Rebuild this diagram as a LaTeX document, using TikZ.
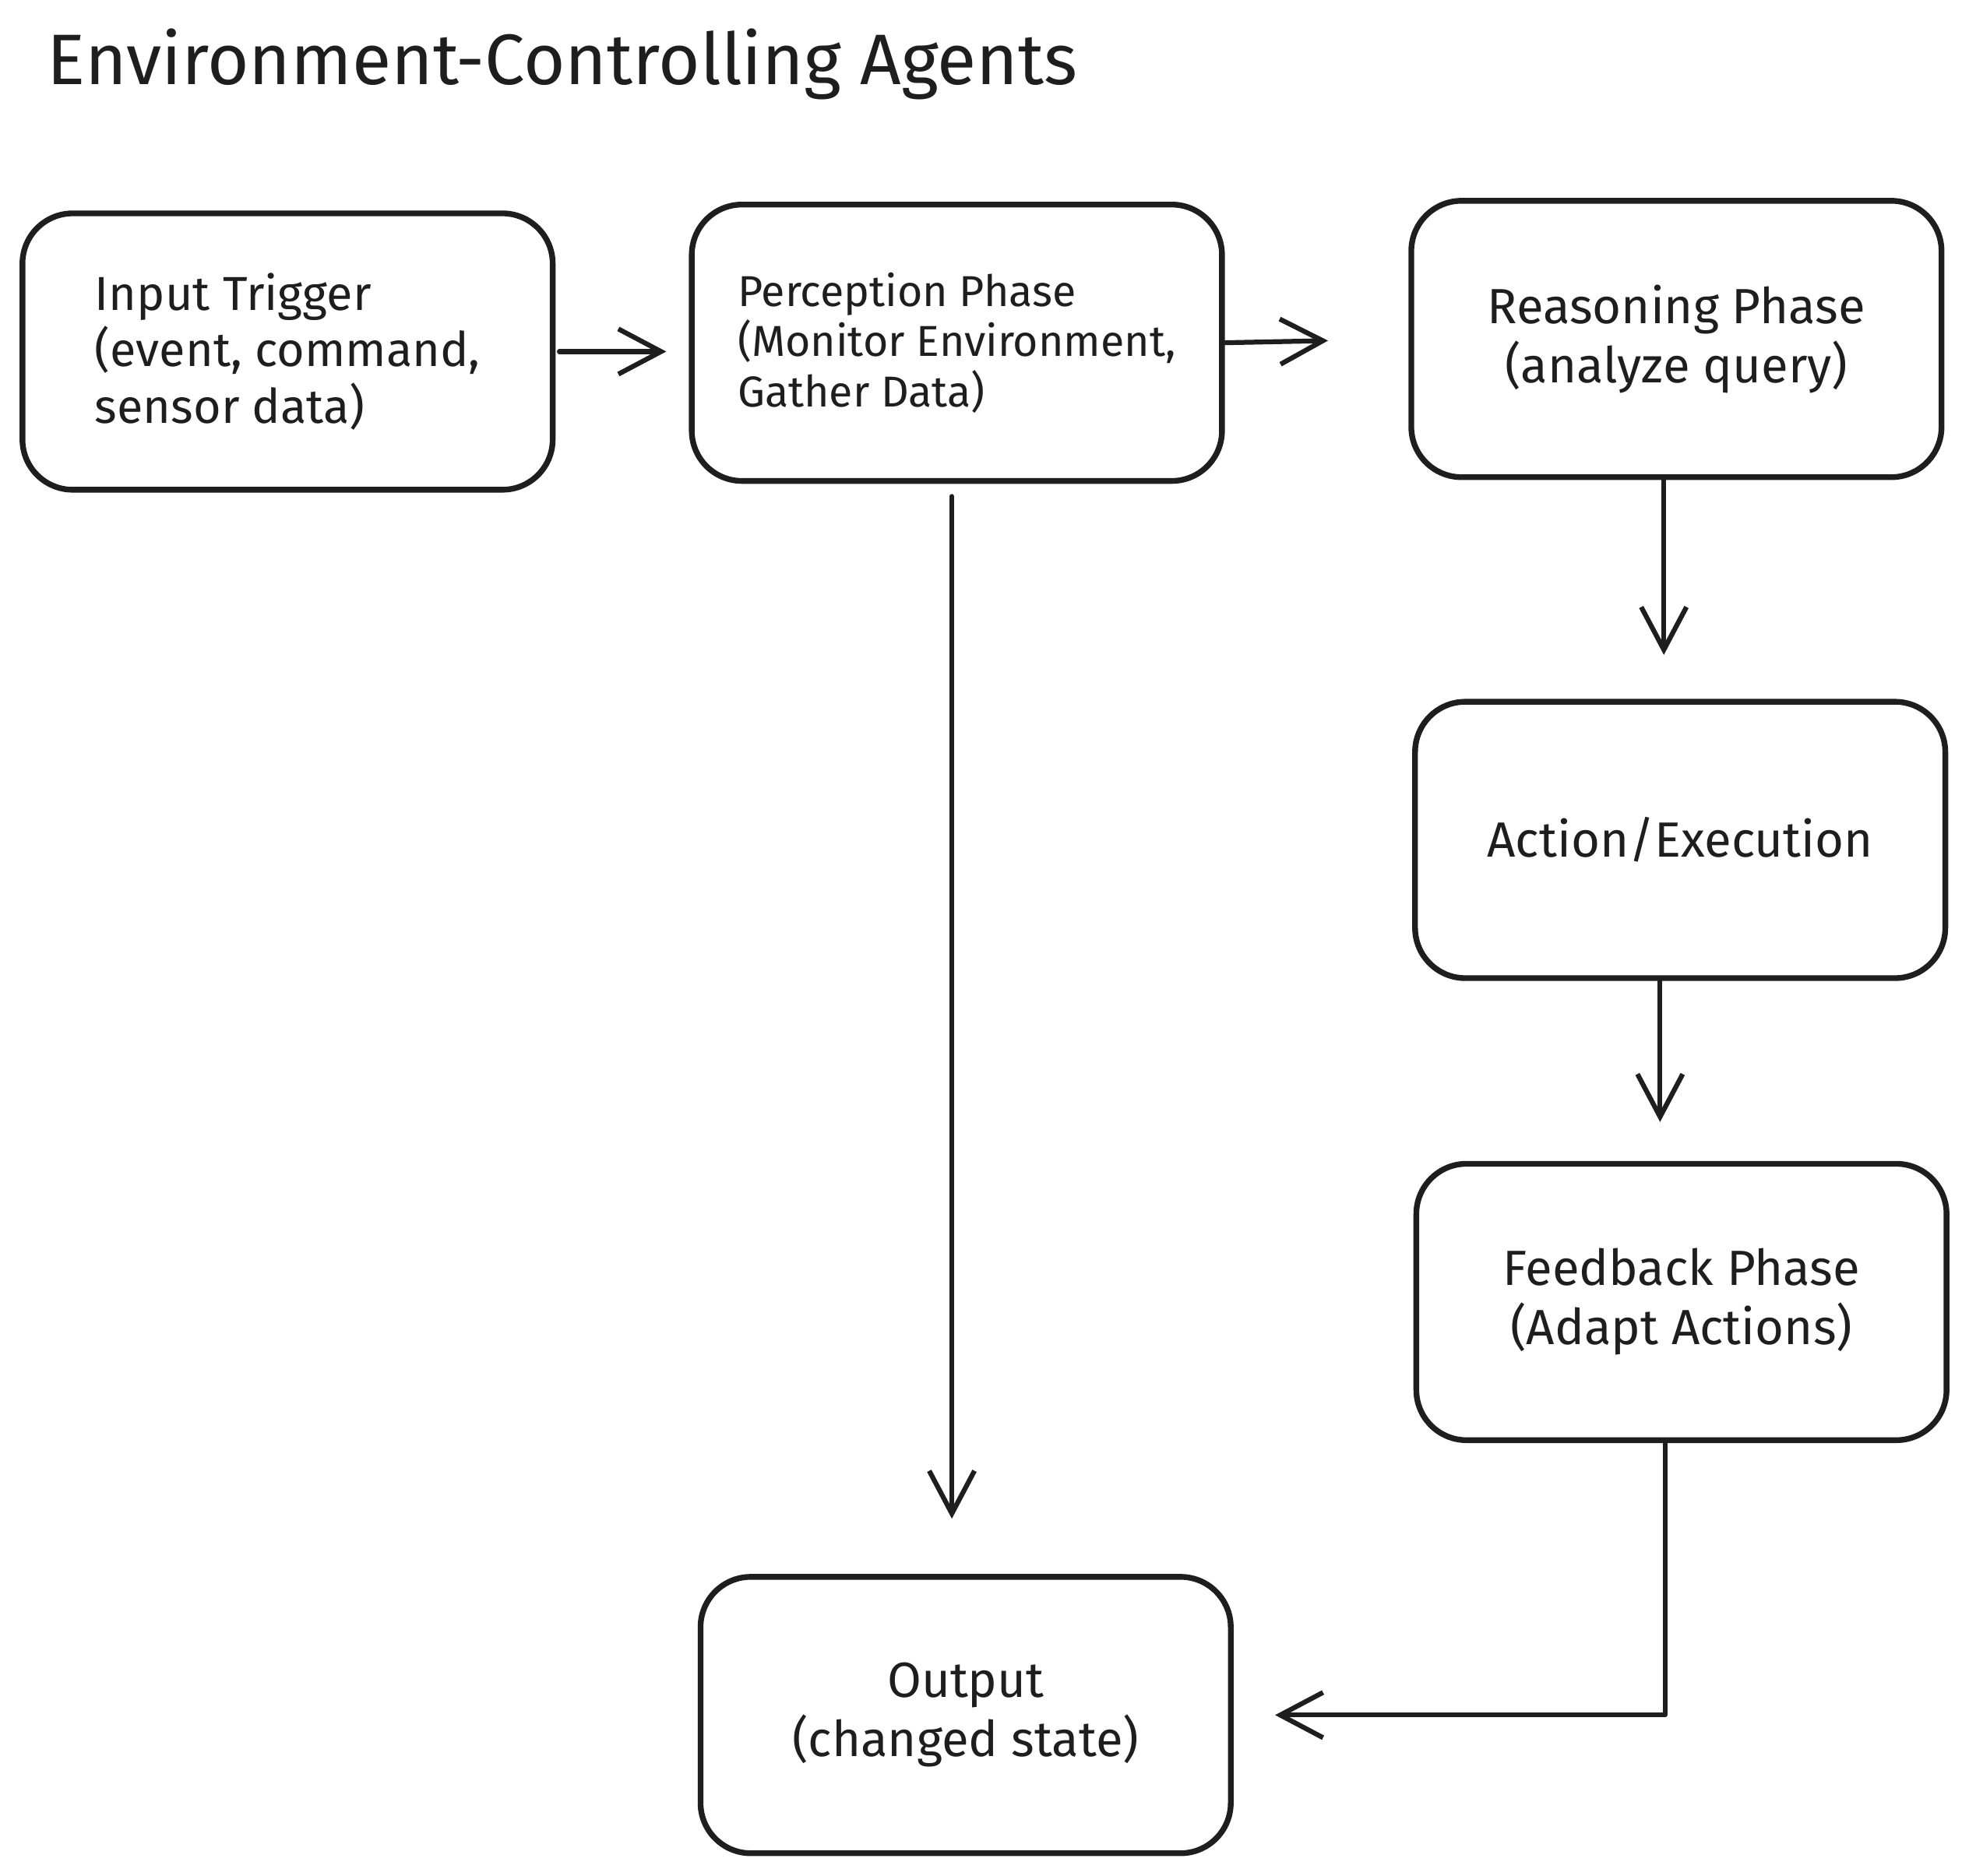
\documentclass[tikz,border=0pt]{standalone}
\usepackage{fontspec}
\setmainfont{Fira Sans}
\usetikzlibrary{arrows.meta, positioning}
\definecolor{ink}{HTML}{1E1E1E}

\begin{document}
\begin{tikzpicture}[x=0.01cm, y=-0.01cm,
    phase/.style={draw=ink, line width=1.3pt, rounded corners=0.4cm, minimum width=4.22cm, minimum height=2.2cm, text=ink, align=center, font=\fontsize{11.2}{13.4}\selectfont},
    flow/.style={draw=ink, line width=1.1pt, line cap=round, line join=round, -{Straight Barb[length=0.34cm, width=0.36cm]}}]
    \useasboundingbox (0,0) rectangle (1568,1494);

    % Title
    \node[anchor=base west, inner sep=0pt, text=ink, font=\fontsize{16.2}{19}\selectfont] (title) at (37,67) {Environment-Controlling Agents};

    % Phases
    \node[phase, align=left, font=\fontsize{10.8}{12.8}\selectfont] (trig) at (229,280) {Input Trigger\\(event, command,\\sensor data)};
    \node[phase, align=left, font=\fontsize{9.8}{11.4}\selectfont] (perc) at (762,273) {Perception Phase\\(Monitor Environment,\\Gather Data)};
    \node[phase] (reas) at (1335,270) {Reasoning Phase\\(analyze query)};
    \node[phase] (act) at (1338,669) {Action/Execution};
    \node[phase] (feed) at (1339,1037) {Feedback Phase\\(Adapt Actions)};
    \node[phase] (out) at (769,1366) {Output\\(changed state)};

    % Wiring
    \draw[flow, shorten <=0.03cm, shorten >=0.18cm] (trig.east) -- (perc.west |- trig.east);
    \draw[flow, shorten >=0.64cm] (perc.east) -- (reas.west);
    \draw[flow, shorten <=0.1cm, shorten >=0.44cm] ([xshift=-0.04cm]perc.south) -- ([xshift=-0.04cm]perc.south |- out.north);
    \draw[flow, shorten >=0.35cm] ([xshift=-0.1cm]reas.south) -- ([xshift=-0.1cm]reas.south |- act.north);
    \draw[flow, shorten >=0.31cm] ([xshift=-0.16cm]act.south) -- ([xshift=-0.16cm]act.south |- feed.north);
    \draw[flow, shorten >=0.33cm] ([xshift=-0.13cm]feed.south) |- (out.east);
\end{tikzpicture}
\end{document}
